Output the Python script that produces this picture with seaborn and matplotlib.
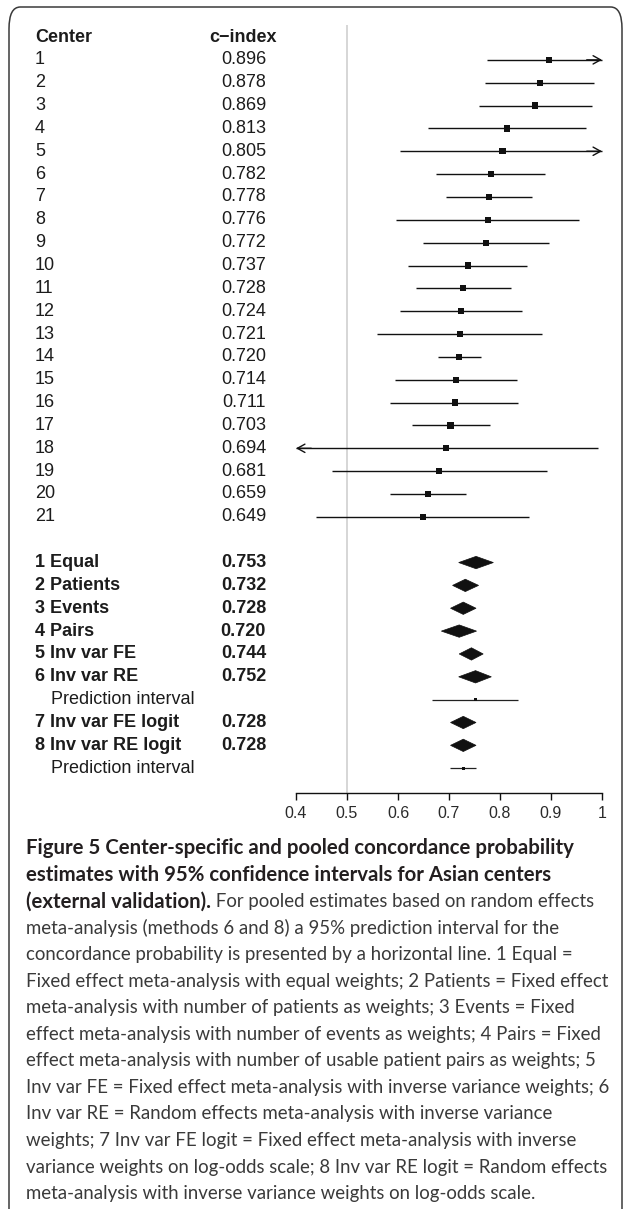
import matplotlib
matplotlib.use("Agg")
import matplotlib.pyplot as plt
import pandas as pd
import seaborn as sns
from matplotlib.patches import FancyBboxPatch, Polygon
from matplotlib.transforms import blended_transform_factory

# center-specific estimates
centers = [str(i) for i in range(1, 22)]
c_index = [0.896, 0.878, 0.869, 0.813, 0.805, 0.782, 0.778, 0.776, 0.772, 0.737, 0.728,
           0.724, 0.721, 0.720, 0.714, 0.711, 0.703, 0.694, 0.681, 0.659, 0.649]
ci_lower = [0.775, 0.770, 0.758, 0.658, 0.603, 0.675, 0.694, 0.596, 0.649, 0.620, 0.635,
            0.603, 0.558, 0.678, 0.595, 0.585, 0.627, 0.390, 0.471, 0.585, 0.440]
ci_upper = [1.010, 0.985, 0.980, 0.968, 1.010, 0.889, 0.863, 0.955, 0.896, 0.853, 0.822,
            0.844, 0.883, 0.763, 0.834, 0.836, 0.781, 0.993, 0.892, 0.733, 0.857]

# pooled estimates
methods = ["1 Equal", "2 Patients", "3 Events", "4 Pairs", "5 Inv var FE",
           "6 Inv var RE", "7 Inv var FE logit", "8 Inv var RE logit"]
pooled = [0.753, 0.732, 0.728, 0.720, 0.744, 0.752, 0.728, 0.728]
pooled_lower = [0.719, 0.707, 0.703, 0.685, 0.720, 0.719, 0.703, 0.703]
pooled_upper = [0.787, 0.758, 0.753, 0.754, 0.767, 0.783, 0.753, 0.753]

# prediction intervals, shown below the random effects methods
pi_methods = ["6 Inv var RE", "8 Inv var RE logit"]
pi_lower = [0.667, 0.701]
pi_upper = [0.836, 0.753]

x_ticks = [0.4, 0.5, 0.6, 0.7, 0.8, 0.9, 1.0]
x_tick_labels = ["0.4", "0.5", "0.6", "0.7", "0.8", "0.9", "1"]

caption_bold = [
    "Figure 5 Center-specific and pooled concordance probability",
    "estimates with 95% confidence intervals for Asian centers",
    "(external validation).",
]
caption_rest = [
    " For pooled estimates based on random effects",
    "meta-analysis (methods 6 and 8) a 95% prediction interval for the",
    "concordance probability is presented by a horizontal line. 1 Equal =",
    "Fixed effect meta-analysis with equal weights; 2 Patients = Fixed effect",
    "meta-analysis with number of patients as weights; 3 Events = Fixed",
    "effect meta-analysis with number of events as weights; 4 Pairs = Fixed",
    "effect meta-analysis with number of usable patient pairs as weights; 5",
    "Inv var FE = Fixed effect meta-analysis with inverse variance weights; 6",
    "Inv var RE = Random effects meta-analysis with inverse variance",
    "weights; 7 Inv var FE logit = Fixed effect meta-analysis with inverse",
    "variance weights on log-odds scale; 8 Inv var RE logit = Random effects",
    "meta-analysis with inverse variance weights on log-odds scale.",
]

# ---- layout (pixels) ----
W, H, DPI = 627, 1209, 100
ROW0_PX, ROW_PX = 37, 22.85
AX_L, AX_R, AX_T, AX_B = 280, 620, 25, 793
X0_PX, PX_PER_UNIT = 296, 510
TXT = "#1c1c1c"

sns.set_theme(style="white")
plt.rcParams["font.family"] = ["Liberation Sans", "DejaVu Sans"]

# row table
center_df = pd.DataFrame({"label": centers, "est": c_index, "lo": ci_lower, "hi": ci_upper})
center_df["row"] = range(1, len(centers) + 1)

rows = []
r = len(centers) + 2
for m, est, lo, hi in zip(methods, pooled, pooled_lower, pooled_upper):
    rows.append({"label": m, "est": est, "lo": lo, "hi": hi, "row": r, "kind": "pooled"})
    r += 1
    if m in pi_methods:
        i = pi_methods.index(m)
        rows.append({"label": "Prediction interval", "est": est, "lo": pi_lower[i],
                     "hi": pi_upper[i], "row": r, "kind": "pi"})
        r += 1
pool_df = pd.DataFrame(rows)

fig = plt.figure(figsize=(W / DPI, H / DPI), dpi=DPI)
fig.patch.set_facecolor("white")

frame = FancyBboxPatch((9 / W, 1 - 1240 / H), 613 / W, 1233 / H,
                       boxstyle="round,pad=0,rounding_size=0.018",
                       transform=fig.transFigure, fill=False, ec="#3a3a3a", lw=1.1)
fig.patches.append(frame)

ax = fig.add_axes([AX_L / W, 1 - AX_B / H, (AX_R - AX_L) / W, (AX_B - AX_T) / H])
ax.set_facecolor("none")
xmin = x_ticks[0] + (AX_L - X0_PX) / PX_PER_UNIT
xmax = x_ticks[0] + (AX_R - X0_PX) / PX_PER_UNIT
ax.set_xlim(xmin, xmax)
ax.set_ylim((AX_B - ROW0_PX) / ROW_PX, (AX_T - ROW0_PX) / ROW_PX)

ax.axvline(0.5, color="#cfcfcf", lw=1.2, zorder=0)

lo_bound, hi_bound = x_ticks[0], x_ticks[-1]
for _, d in center_df.iterrows():
    lo = max(d["lo"], lo_bound)
    hi = min(d["hi"], hi_bound)
    ax.hlines(d["row"], lo, hi, color="#111111", lw=1.0, zorder=2)
    if d["hi"] > hi_bound:
        ax.annotate("", xy=(hi, d["row"]), xytext=(hi - 0.03, d["row"]),
                    arrowprops=dict(arrowstyle="->,head_length=0.45,head_width=0.25",
                                    color="#111111", lw=1.0, shrinkA=0, shrinkB=0))
    if d["lo"] < lo_bound:
        ax.annotate("", xy=(lo, d["row"]), xytext=(lo + 0.03, d["row"]),
                    arrowprops=dict(arrowstyle="->,head_length=0.45,head_width=0.25",
                                    color="#111111", lw=1.0, shrinkA=0, shrinkB=0))

sns.scatterplot(data=center_df, x="est", y="row", marker="s", s=20, color="#111111",
                edgecolor="none", legend=False, ax=ax, zorder=3)

half_h = 0.27
for _, d in pool_df.iterrows():
    if d["kind"] == "pooled":
        diamond = Polygon([(d["lo"], d["row"]), (d["est"], d["row"] - half_h),
                           (d["hi"], d["row"]), (d["est"], d["row"] + half_h)],
                          closed=True, fc="#111111", ec="#111111", lw=0.5, zorder=3)
        ax.add_patch(diamond)
    else:
        ax.hlines(d["row"], d["lo"], d["hi"], color="#222222", lw=0.9, zorder=2)

pi_df = pool_df[pool_df["kind"] == "pi"]
sns.scatterplot(data=pi_df, x="est", y="row", marker="s", s=5, color="#111111",
                edgecolor="none", legend=False, ax=ax, zorder=3)

# x axis
ax.set_xticks(x_ticks)
ax.set_xticklabels(x_tick_labels, fontsize=11.5, color="#2a2a2a")
ax.set_yticks([])
ax.set_xlabel("")
ax.set_ylabel("")
for side in ["top", "right", "left"]:
    ax.spines[side].set_visible(False)
ax.spines["bottom"].set_bounds(lo_bound, hi_bound)
ax.spines["bottom"].set_color("#111111")
ax.spines["bottom"].set_linewidth(1.0)
ax.tick_params(axis="x", direction="out", length=5, width=1.0, color="#111111", pad=4,
               bottom=True)

# text columns
tr = blended_transform_factory(fig.transFigure, ax.transData)
FS = 13
ax.text(35 / W, 0, "Center", transform=tr, ha="left", va="center", fontsize=FS,
        fontweight="bold", color=TXT, clip_on=False)
ax.text(277 / W, 0, "c\u2212index", transform=tr, ha="right", va="center", fontsize=FS,
        fontweight="bold", color=TXT, clip_on=False)
for _, d in center_df.iterrows():
    ax.text(35 / W, d["row"], d["label"], transform=tr, ha="left", va="center",
            fontsize=FS, color=TXT, clip_on=False)
    ax.text(266 / W, d["row"], f"{d['est']:.3f}", transform=tr, ha="right", va="center",
            fontsize=FS, color=TXT, clip_on=False)
for _, d in pool_df.iterrows():
    if d["kind"] == "pooled":
        ax.text(35 / W, d["row"], d["label"], transform=tr, ha="left", va="center",
                fontsize=FS, fontweight="bold", color=TXT, clip_on=False)
        ax.text(266 / W, d["row"], f"{d['est']:.3f}", transform=tr, ha="right",
                va="center", fontsize=FS, fontweight="bold", color=TXT, clip_on=False)
    else:
        ax.text(51 / W, d["row"], d["label"], transform=tr, ha="left", va="center",
                fontsize=FS, color=TXT, clip_on=False)

# caption
CAP_FAMILY = ["Lato", "DejaVu Sans"]
CAP_X, CAP_Y0, CAP_DY = 26, 848, 26.6
renderer = fig.canvas.get_renderer()
for i, line in enumerate(caption_bold):
    t = fig.text(CAP_X / W, 1 - (CAP_Y0 + i * CAP_DY) / H, line, ha="left", va="center",
                 fontsize=14.7, fontweight="bold", family=CAP_FAMILY, color="#231f20")
bb = t.get_window_extent(renderer=renderer)
for i, line in enumerate(caption_rest):
    if i == 0:
        x = bb.x1 / W
        y = 1 - (CAP_Y0 + (len(caption_bold) - 1) * CAP_DY) / H
    else:
        x = CAP_X / W
        y = 1 - (CAP_Y0 + (len(caption_bold) - 1 + i) * CAP_DY) / H
    fig.text(x, y, line, ha="left", va="center", fontsize=13.4, fontweight="normal",
             family=CAP_FAMILY, color="#3a3a3a")

fig.savefig("out.png", dpi=DPI, facecolor="white")
